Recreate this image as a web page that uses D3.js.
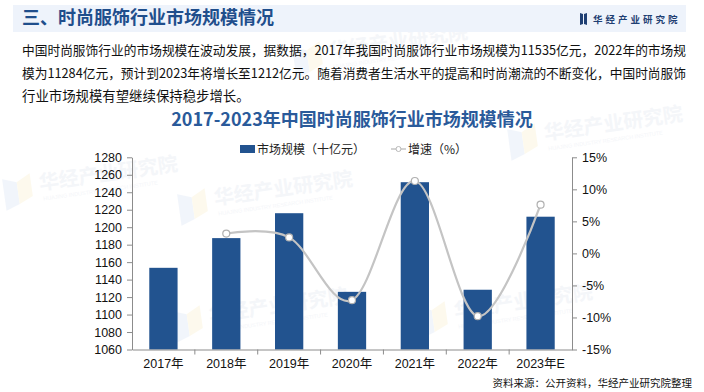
<!DOCTYPE html>
<html>
<head>
<meta charset="utf-8">
<script src="https://cdn.jsdelivr.net/npm/d3@7/dist/d3.min.js"></script>
<style>
  html, body { margin: 0; padding: 0; background: #fff; }
  svg { display: block; }
</style>
</head>
<body>
<svg id="chart" width="704" height="392"></svg>
<script>
// data
const years = ["2017年", "2018年", "2019年", "2020年", "2021年", "2022年", "2023年E"];
const marketSize = [1153.5, 1187.5, 1216, 1126, 1251.5, 1128.4, 1212]; // 十亿元
const growth = [null, 3.1, 2.5, -7.3, 11.3, -9.8, 7.6]; // %
const leftTicks = [1060, 1080, 1100, 1120, 1140, 1160, 1180, 1200, 1220, 1240, 1260, 1280];
const rightTicks = [-15, -10, -5, 0, 5, 10, 15];
const paragraph = [
  "中国时尚服饰行业的市场规模在波动发展，据数据，2017年我国时尚服饰行业市场规模为11535亿元，2022年的市场规",
  "模为11284亿元，预计到2023年将增长至1212亿元。随着消费者生活水平的提高和时尚潮流的不断变化，中国时尚服饰",
  "行业市场规模有望继续保持稳步增长。"
];

const cjk = "'Noto Sans CJK SC', 'Noto Sans', sans-serif";
const latin = "'Liberation Sans', Arial, 'Noto Sans CJK SC', sans-serif";
const svg = d3.select("#chart");

// faint watermarks
const marks = [[40, 190], [215, 205], [210, 322], [455, 318], [545, 140], [330, 58]];
marks.forEach(function(m) {
  const g = svg.append("g").attr("transform", `translate(${m[0]},${m[1]}) rotate(-8)`).attr("opacity", 0.3);
  g.append("path").attr("d", "M-36,-16 L-22,-11 L-22,11 L-36,16 Z").attr("fill", "#d3e0f2");
  g.append("path").attr("d", "M-22,-11 L-8,-18 L-8,5 L-22,11 Z").attr("fill", "#f9edc4");
  g.append("text").attr("x", 0).attr("y", 0)
    .attr("font-family", cjk).attr("font-size", 20).attr("font-weight", "bold")
    .attr("fill", "#dbe2ec").text("华经产业研究院");
  g.append("text").attr("x", 2).attr("y", 11)
    .attr("font-family", latin).attr("font-size", 5.5)
    .attr("fill", "#dbe2ec").text("HUAJING INDUSTRY RESEARCH INSTITUTE");
});

// header band
svg.append("rect").attr("x", 13).attr("y", 5).attr("width", 673).attr("height", 27).attr("fill", "#eef3fb");
svg.append("text").attr("x", 22).attr("y", 24)
  .attr("font-family", cjk).attr("font-size", 18).attr("font-weight", "bold")
  .attr("fill", "#1f4e8c").text("三、时尚服饰行业市场规模情况");
svg.append("path").attr("d", "M580,13 L583,14 L583,24 L580,25 Z M584,14 L587,13 L587,25 L584,24 Z").attr("fill", "#1f3f73");
svg.append("text").attr("x", 593).attr("y", 22.5)
  .attr("font-family", cjk).attr("font-size", 9.5).attr("font-weight", "bold")
  .attr("letter-spacing", 3).attr("fill", "#1f3f73").text("华经产业研究院");

// paragraph
svg.selectAll(".para").data(paragraph).enter().append("text")
  .attr("class", "para")
  .attr("x", 22)
  .attr("y", function(d, i) { return 55 + i * 23; })
  .attr("font-family", cjk)
  .attr("font-size", function(d, i) { return i < 2 ? 13 : 13.4; })
  .attr("fill", "#111")
  .attr("textLength", function(d, i) { return i < 2 ? 664 : null; })
  .attr("lengthAdjust", "spacingAndGlyphs")
  .text(function(d) { return d; });

// chart title
svg.append("text").attr("x", 352).attr("y", 126).attr("text-anchor", "middle")
  .attr("font-family", cjk).attr("font-size", 18).attr("font-weight", "bold")
  .attr("fill", "#2a5a9a").text("2017-2023年中国时尚服饰行业市场规模情况");

// legend
svg.append("rect").attr("x", 240).attr("y", 145).attr("width", 15).attr("height", 8).attr("fill", "#22538f");
svg.append("text").attr("x", 257).attr("y", 153.5)
  .attr("font-family", cjk).attr("font-size", 12).attr("fill", "#222").text("市场规模（十亿元）");
svg.append("line").attr("x1", 391).attr("x2", 406).attr("y1", 149).attr("y2", 149)
  .attr("stroke", "#c4c4c4").attr("stroke-width", 1.5);
svg.append("circle").attr("cx", 398.5).attr("cy", 149).attr("r", 2.5)
  .attr("fill", "#fff").attr("stroke", "#b8b8b8").attr("stroke-width", 1);
svg.append("text").attr("x", 408).attr("y", 153.5)
  .attr("font-family", cjk).attr("font-size", 12).attr("fill", "#222").text("增速（%）");

// scales
const plot = { left: 132, right: 572, top: 157.3, bottom: 349.5 };
const x = d3.scaleBand().domain(years).range([plot.left, plot.right]);
const yL = d3.scaleLinear().domain([1060, 1280]).range([plot.bottom, plot.top]);
const yR = d3.scaleLinear().domain([-15, 15]).range([plot.bottom, plot.top]);

// bars
const barW = x.bandwidth() * 0.45;
svg.append("g").selectAll("rect").data(marketSize).enter().append("rect")
  .attr("x", function(d, i) { return x(years[i]) + (x.bandwidth() - barW) / 2; })
  .attr("width", barW)
  .attr("y", function(d) { return yL(d); })
  .attr("height", function(d) { return plot.bottom - yL(d); })
  .attr("fill", "#22538f");

// axes
const axisColor = "#8c8c8c";
const leftAxis = svg.append("g").attr("transform", `translate(${plot.left},0)`)
  .call(d3.axisLeft(yL).tickValues(leftTicks).tickSize(5).tickSizeOuter(0).tickPadding(5)
    .tickFormat(function(d) { return String(d); }));
const rightAxis = svg.append("g").attr("transform", `translate(${plot.right},0)`)
  .call(d3.axisRight(yR).tickValues(rightTicks).tickSize(5).tickSizeOuter(0).tickPadding(5)
    .tickFormat(function(d) { return d + "%"; }));
const bottomAxis = svg.append("g").attr("transform", `translate(0,${plot.bottom})`)
  .call(d3.axisBottom(x).tickSize(0).tickSizeOuter(0).tickPadding(10));
// category boundary ticks
svg.append("g").selectAll("line").data(years.slice(1)).enter().append("line")
  .attr("x1", function(d) { return x(d); }).attr("x2", function(d) { return x(d); })
  .attr("y1", plot.bottom).attr("y2", plot.bottom + 5)
  .attr("stroke", axisColor);

[leftAxis, rightAxis, bottomAxis].forEach(function(a) {
  a.selectAll("path, line").attr("stroke", axisColor);
  a.selectAll("text").attr("font-family", latin).attr("font-size", 12.5).attr("fill", "#111");
});

// growth line
const pts = growth.map(function(g, i) { return { c: years[i], v: g }; }).filter(function(d) { return d.v !== null; });
const line = d3.line()
  .x(function(d) { return x(d.c) + x.bandwidth() / 2; })
  .y(function(d) { return yR(d.v); })
  .curve(d3.curveCardinal.tension(0));
svg.append("path").datum(pts).attr("d", line)
  .attr("fill", "none").attr("stroke", "#c4c4c4").attr("stroke-width", 2.2);
svg.append("g").selectAll("circle").data(pts).enter().append("circle")
  .attr("cx", function(d) { return x(d.c) + x.bandwidth() / 2; })
  .attr("cy", function(d) { return yR(d.v); })
  .attr("r", 3.5)
  .attr("fill", "#fff").attr("stroke", "#b0b0b0").attr("stroke-width", 1.2);

// source note
svg.append("text").attr("x", 692).attr("y", 387).attr("text-anchor", "end")
  .attr("font-family", cjk).attr("font-size", 10.5).attr("fill", "#111")
  .text("资料来源：公开资料，华经产业研究院整理");
</script>
</body>
</html>
